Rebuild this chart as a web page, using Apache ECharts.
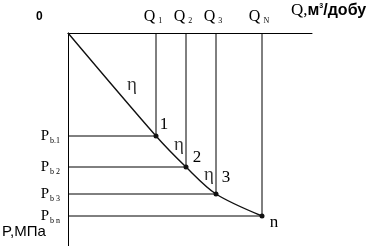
<!DOCTYPE html>
<html><head><meta charset="utf-8">
<script src="https://cdn.jsdelivr.net/npm/echarts@6/dist/echarts.min.js"></script>
<style>html,body{margin:0;padding:0;background:#fff}#c{width:373px;height:246px}</style>
</head><body><div id="c"></div>
<script>
// flow rates (arbitrary units along Q axis)
var qValues = [88, 118, 148, 194];
// bottom-hole pressures (arbitrary units, downward)
var pValues = [103, 134, 161, 183];
var qSubs = ['1', '2', '3', 'N'];
var pSubs = ['b.1', 'b 2', 'b 3', 'b n'];
var pointNames = ['1', '2', '3', 'n'];
var etaLabel = 'η';
var qMax = 244, pMax = 213;

var serif = 'Liberation Serif, Times New Roman, serif';
var sans = 'Liberation Sans, Arial, sans-serif';

var curve = [[0, 0]];
for (var i = 0; i < qValues.length; i++) curve.push([qValues[i], pValues[i]]);

var series = [];
for (var i = 0; i < qValues.length; i++) {
  series.push({
    type: 'line', silent: true, symbol: 'none', animation: false,
    lineStyle: { color: '#000', width: 1 },
    data: [[qValues[i], 0], [qValues[i], pValues[i]], [0, pValues[i]]],
    z: 1
  });
}
var labelOffsets = [[8, -11], [11, -9], [10, -16], [12, 7]];
series.push({
  type: 'line', smooth: 0.3, animation: false,
  symbol: 'circle', showSymbol: true,
  symbolSize: function (v, p) { return p.dataIndex === 0 ? 0 : 5; },
  itemStyle: { color: '#111' },
  lineStyle: { color: '#111', width: 1.4 },
  data: curve.map(function (d, k) {
    var o = { value: d };
    if (k > 0) {
      o.label = { show: true, formatter: pointNames[k - 1], position: 'inside',
        offset: labelOffsets[k - 1], color: '#000', fontFamily: serif, fontSize: 17 };
    }
    return o;
  }),
  z: 3
});
// eta labels placed at segment midpoints
var etaOffsets = [[20, 1], [8, -6], [8, -5]];
var etaData = [];
for (var k = 0; k < 3; k++) {
  etaData.push({
    value: [(curve[k][0] + curve[k + 1][0]) / 2, (curve[k][1] + curve[k + 1][1]) / 2],
    label: { show: true, formatter: etaLabel, position: 'inside', offset: etaOffsets[k],
      color: '#000', fontFamily: serif, fontSize: 19 }
  });
}
series.push({ type: 'scatter', symbolSize: 0, data: etaData, silent: true, animation: false, z: 4 });

var chart = echarts.init(document.getElementById('c'), null, { renderer: 'canvas' });
chart.setOption({
  animation: false,
  grid: { left: 68, right: 373 - 312, top: 33, bottom: 0, containLabel: false },
  xAxis: {
    type: 'value', position: 'top', min: 0, max: qMax,
    splitLine: { show: false },
    axisLine: { show: true, onZero: false, lineStyle: { color: '#000', width: 1 } },
    axisTick: { show: false },
    axisLabel: {
      show: true, customValues: qValues, margin: 8,
      formatter: function (v) {
        var i = qValues.indexOf(v);
        return '{m|Q}{s|' + qSubs[i] + '}';
      },
      rich: {
        m: { fontFamily: serif, fontSize: 16, color: '#000', padding: [0, 0, 0, 0] },
        s: { fontFamily: serif, fontSize: 8, color: '#000', padding: [8, 0, 0, 3] }
      },
      padding: [0, 6, 0, 0]
    }
  },
  yAxis: {
    type: 'value', inverse: true, min: 0, max: pMax,
    splitLine: { show: false },
    axisLine: { show: true, onZero: false, lineStyle: { color: '#000', width: 1 } },
    axisTick: { show: false },
    axisLabel: {
      show: true, customValues: pValues, margin: 8,
      formatter: function (v) {
        var i = pValues.indexOf(v);
        return '{m|P}{s|' + pSubs[i] + '}';
      },
      rich: {
        m: { fontFamily: serif, fontSize: 15, color: '#000' },
        s: { fontFamily: serif, fontSize: 8, color: '#000', padding: [9, 0, 0, 1] }
      }
    }
  },
  graphic: [
    { type: 'text', left: 36, top: 11, style: { text: '0', font: 'bold 12px ' + sans, fill: '#000' } },
    { type: 'text', left: 291, top: 2, style: { rich: {
        a: { fontFamily: serif, fontSize: 17, fill: '#000' },
        b: { fontFamily: sans, fontSize: 16, fontWeight: 'bold', fill: '#000' },
        c: { fontFamily: sans, fontSize: 7, fontWeight: 'bold', fill: '#000', padding: [0, 0, 9, 0] }
      }, text: '{a|Q,}{b|м}{c|3}{b|/добу}' } },
    { type: 'text', left: 2, top: 224, style: { text: 'P,МПа', font: '15px ' + sans, fill: '#000' } }
  ],
  series: series
});
</script></body></html>
